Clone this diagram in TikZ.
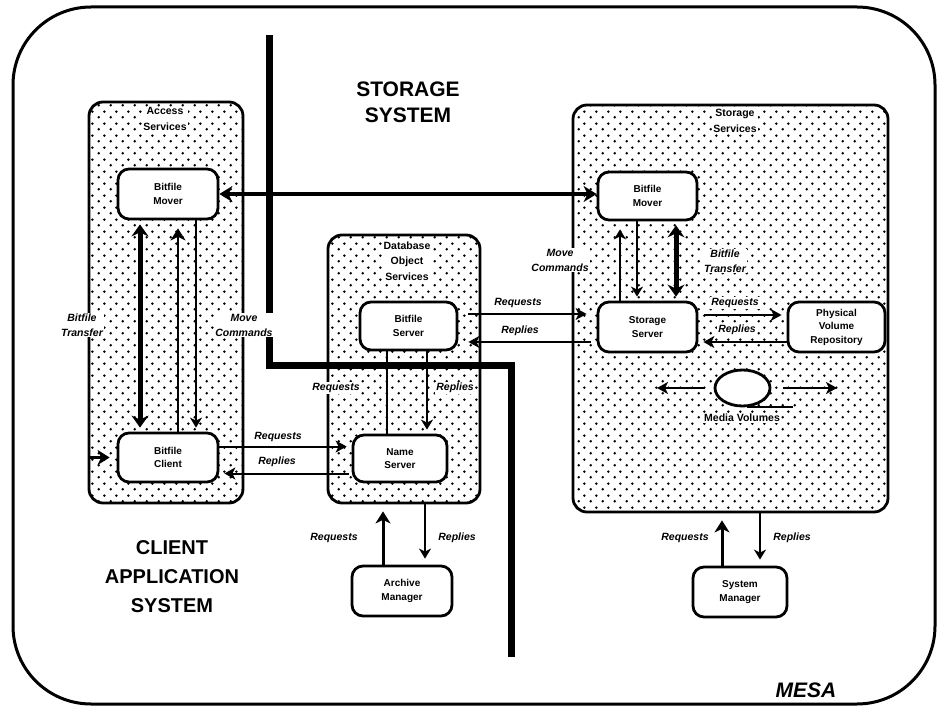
\documentclass[tikz,border=0pt]{standalone}
\usepackage{fontspec}
\setmainfont{Liberation Sans}
\usetikzlibrary{arrows.meta,patterns.meta,shapes.geometric}

\tikzdeclarepattern{
  name=stipple,
  type=uncolored,
  bottom left={(0pt,0pt)},
  top right={(12pt,12pt)},
  tile size={(12pt,12pt)},
  code={
    \pgfpathcircle{\pgfpoint{3pt}{3pt}}{1.5pt}
    \pgfpathcircle{\pgfpoint{9pt}{9pt}}{1.5pt}
    \pgfusepath{fill}
  }
}

\tikzset{
  frame/.style={draw, line width=3pt, rounded corners=78pt},
  panel/.style={draw, line width=2.8pt, rounded corners=14pt, pattern=stipple, pattern color=black, inner sep=0pt},
  box/.style={draw, fill=white, line width=2.8pt, rounded corners=11pt, align=center,
    font=\fontsize{10}{13.5}\selectfont\bfseries, inner sep=0pt},
  ptitle/.style={align=center, font=\fontsize{10.5}{15.5}\selectfont\bfseries, inner sep=1pt, fill=white},
  lbl/.style={font=\fontsize{10.5}{15}\selectfont\bfseries\itshape, fill=white, inner sep=1pt, align=center},
  plainlbl/.style={font=\fontsize{10.5}{13}\selectfont\bfseries, inner sep=1pt, fill=white},
  big/.style={font=\fontsize{21}{26}\selectfont\bfseries, align=center},
  divider/.style={line width=7pt, line join=miter},
  harr/.style={line width=2pt, -{Stealth[length=11pt,width=12pt,inset=3pt]}},
  varr/.style={line width=2.6pt, -{Stealth[length=12pt,width=15pt,inset=3.5pt]}},
  tarr/.style={line width=1.8pt, -{Stealth[length=10pt,width=12pt,inset=3pt]}},
  dblarr/.style={line width=5pt, {Stealth[length=12pt,width=17pt,inset=4pt]}-{Stealth[length=12pt,width=17pt,inset=4pt]}},
  moverarr/.style={line width=4pt, {Stealth[length=13pt,width=16pt,inset=4pt]}-{Stealth[length=13pt,width=16pt,inset=4pt]}},
  plainline/.style={line width=1.8pt}
}

\begin{document}
\begin{tikzpicture}[x=1pt,y=-1pt]
\useasboundingbox (0,0) rectangle (939,708);

% outer frame
\node[frame, minimum width=922, minimum height=697, inner sep=0pt] (outer) at (474,355.5) {};

% panels
\node[panel, minimum width=154, minimum height=401] (access) at (166,302.5) {};
\node[panel, minimum width=152, minimum height=268] (dbpanel) at (404,369) {};
\node[panel, minimum width=315, minimum height=407] (storage) at (730.5,308.5) {};

% panel titles
\node[ptitle] (tacc) at (165,119) {Access\\Services};
\node[ptitle] (tdb) at (407,261) {Database\\Object\\Services};
\node[ptitle] (tsto) at (735,121) {Storage\\Services};

% boxes
\node[box, minimum width=100, minimum height=50] (amover) at (168,194) {Bitfile\\Mover};
\node[box, minimum width=100, minimum height=49] (aclient) at (168,457.5) {Bitfile\\Client};
\node[box, minimum width=97, minimum height=48] (bserver) at (408.5,326) {Bitfile\\Server};
\node[box, minimum width=94, minimum height=47] (nserver) at (400,458.5) {Name\\Server};
\node[box, minimum width=99, minimum height=48] (smover) at (647.5,196) {Bitfile\\Mover};
\node[box, minimum width=99, minimum height=50] (sserver) at (647.5,327) {Storage\\Server};
\node[box, minimum width=97, minimum height=50] (pvr) at (836.5,327) {Physical\\Volume\\Repository};
\node[box, minimum width=100, minimum height=50] (amanager) at (402,591) {Archive\\Manager};
\node[box, minimum width=94, minimum height=50] (smanager) at (740,592) {System\\Manager};

% media volumes
\node[draw, line width=2.8pt, fill=white, ellipse, minimum width=55, minimum height=36, inner sep=0pt] (media) at (742.5,388) {};
\coordinate (mleft) at (657,388);
\coordinate (mright) at (837,388);
\coordinate (mline1) at (747,407);
\coordinate (mline2) at (793,407);

% divider line
\coordinate (d1) at (269,35);
\coordinate (d2) at (269,365);
\coordinate (d3) at (511,365);
\coordinate (d4) at (511,657);
\draw[divider] (d1) -- (d2) -- (d3) -- (d4);

% mover to mover
\draw[moverarr] (amover.east) -- (amover.east -| smover.west);

% access panel arrows
\draw[dblarr, shorten <=4pt, shorten >=4pt] ([xshift=-28pt]amover.south) -- ([xshift=-28pt]aclient.north);
\draw[varr, shorten >=8pt] ([xshift=10pt]aclient.north) -- ([xshift=10pt]amover.south);
\draw[tarr, shorten >=4pt] ([xshift=28pt]amover.south) -- ([xshift=28pt]aclient.north);
\draw[varr, shorten >=7pt] (access.west |- aclient.west) -- (aclient.west);

% client <-> name server
\draw[harr, shorten >=5pt] ([yshift=11pt]aclient.east) -- ([yshift=11pt]aclient.east -| nserver.west);
\draw[harr, shorten <=3pt, shorten >=5pt] ([yshift=-15pt]nserver.west) -- ([yshift=-15pt]nserver.west -| aclient.east);

% bitfile server <-> name server
\coordinate (xa) at (387,0);
\coordinate (xb) at (427,0);
\draw[plainline] (nserver.north -| xa) -- (bserver.south -| xa);
\draw[tarr, shorten >=4pt] (bserver.south -| xb) -- (nserver.north -| xb);
\draw[divider] (d2) -- (d3);

% bitfile server <-> storage server
\draw[harr, shorten <=10pt, shorten >=10pt] ([yshift=12pt]bserver.east) -- ([yshift=12pt]bserver.east -| sserver.west);
\draw[harr, shorten <=6pt, shorten >=10pt] ([yshift=-15pt]sserver.west) -- ([yshift=-15pt]sserver.west -| bserver.east);

% storage panel arrows
\draw[tarr, shorten >=8pt] ([xshift=-27.5pt]sserver.north) -- ([xshift=-27.5pt]smover.south);
\draw[tarr, shorten >=4pt] ([xshift=-10.5pt]smover.south) -- ([xshift=-10.5pt]sserver.north);
\draw[dblarr, shorten <=4pt, shorten >=4pt] ([xshift=28.5pt]smover.south) -- ([xshift=28.5pt]sserver.north);

% storage server <-> pvr
\draw[harr, shorten <=6pt, shorten >=5pt] ([yshift=12pt]sserver.east) -- ([yshift=12pt]sserver.east -| pvr.west);
\draw[harr, shorten >=5pt] ([yshift=-15pt]pvr.west) -- ([yshift=-15pt]pvr.west -| sserver.east);

% media arrows
\draw[harr, shorten <=9pt] (media.west) -- (mleft);
\draw[harr, shorten <=12pt] (media.east) -- (mright);
\node[plainlbl] (lmedia) at (742,418) {Media Volumes};
\draw[plainline] (mline1) -- (mline2);

% archive manager
\draw[varr, line width=3pt, shorten >=7pt] ([xshift=-19pt]amanager.north) -- ([xshift=-19pt]amanager.north |- dbpanel.south);
\draw[tarr, shorten >=6pt] ([xshift=23pt]amanager.north |- dbpanel.south) -- ([xshift=23pt]amanager.north);

% system manager
\draw[varr, line width=3pt, shorten >=7pt] ([xshift=-18pt]smanager.north) -- ([xshift=-18pt]smanager.north |- storage.south);
\draw[tarr, shorten >=6pt] ([xshift=20pt]smanager.north |- storage.south) -- ([xshift=20pt]smanager.north);

% labels
\node[lbl] (lbtl) at (82,325) {Bitfile\\Transfer};
\node[lbl] (lmcl) at (244,325) {Move\\Commands};
\node[lbl] (lmcr) at (560,260) {Move\\Commands};
\node[lbl] (lbtr) at (725,261) {Bitfile\\Transfer};
\node[lbl] (lreq1) at (278,437) {Requests};
\node[lbl] (lrep1) at (277,462) {Replies};
\node[lbl] (lreq2) at (336,388) {Requests};
\node[lbl] (lrep2) at (455,388) {Replies};
\node[lbl] (lreq3) at (518,303) {Requests};
\node[lbl] (lrep3) at (520,331) {Replies};
\node[lbl] (lreq4) at (735,303) {Requests};
\node[lbl] (lrep4) at (737,330) {Replies};
\node[lbl] (lreq5) at (334,538) {Requests};
\node[lbl] (lrep5) at (457,538) {Replies};
\node[lbl] (lreq6) at (685,538) {Requests};
\node[lbl] (lrep6) at (792,538) {Replies};

% big labels
\node[big] (storsys) at (408,102) {STORAGE\\SYSTEM};
\node[big, font=\fontsize{20}{29}\selectfont\bfseries] (clisys) at (172,577) {CLIENT\\APPLICATION\\SYSTEM};
\node[font=\fontsize{21}{25}\selectfont\bfseries\itshape] (mesa) at (806,690) {MESA};
\end{tikzpicture}
\end{document}
